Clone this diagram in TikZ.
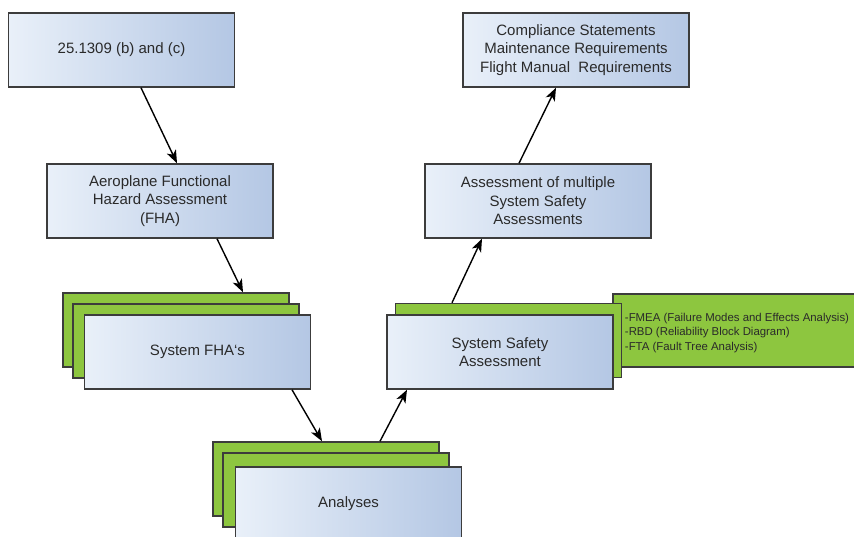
\documentclass[tikz,border=0pt]{standalone}
\usepackage{fontspec}
\setmainfont{Liberation Sans}
\usetikzlibrary{arrows.meta}
\definecolor{boxleft}{HTML}{E9F0F9}
\definecolor{boxright}{HTML}{B4C7E4}
\definecolor{leafgreen}{HTML}{8DC63F}
\definecolor{edgegray}{HTML}{3C3C3C}
\definecolor{textgray}{HTML}{2A2A2A}
\tikzset{
  bluebox/.style={draw=edgegray, line width=1.5pt, left color=boxleft, right color=boxright,
    minimum width=226pt, minimum height=74pt, inner sep=2pt, align=center,
    text=textgray, font=\fontsize{15}{18.5}\selectfont},
  greenbox/.style={draw=edgegray, line width=1.5pt, fill=leafgreen,
    minimum width=226pt, minimum height=74pt, inner sep=0pt},
  notebox/.style={draw=edgegray, line width=1.5pt, fill=leafgreen,
    minimum width=257pt, minimum height=73pt, inner sep=0pt},
  flow/.style={-{Stealth[length=13pt,width=10pt,inset=3.5pt]}, line width=1.4pt, black},
}
\begin{document}
\begin{tikzpicture}[x=1pt,y=-1pt]
\useasboundingbox (0,0) rectangle (854,537);
\clip (0,0) rectangle (854,537);

% top row
\node[bluebox] (rule) at (121.5,50) {25.1309 (b) and (c)};
\node[bluebox] (comp) at (576,50) {Compliance Statements\\Maintenance Requirements\\Flight Manual\ \ Requirements};

% second row
\node[bluebox] (fha) at (160,201) {Aeroplane Functional\\Hazard Assessment\\(FHA)};
\node[bluebox] (multi) at (538,201) {Assessment of multiple\\System Safety\\Assessments};

% stack of system FHAs
\node[greenbox] (sysA) at (176,330) {};
\node[greenbox] (sysB) at (186,341) {};
\node[bluebox] (sys) at (197.5,352) {System FHA`s};

% system safety assessment with its methods
\node[notebox] (methods) at (741.5,330.5) {};
\node[anchor=west, align=left, text=textgray, font=\fontsize{11.4}{14.5}\selectfont, inner sep=0pt]
  (methodtext) at ([xshift=12.5pt,yshift=-2.5pt]methods.west)
  {-FMEA (Failure Modes and Effects Analysis)\\-RBD (Reliability Block Diagram)\\-FTA (Fault Tree Analysis)};
\node[greenbox] (ssaback) at (508.5,340.5) {};
\node[bluebox] (ssa) at (500,352) {System Safety\\Assessment};

% stack of analyses
\node[greenbox] (anA) at (326,479) {};
\node[greenbox] (anB) at (336,490) {};
\node[bluebox] (an) at (348.5,504) {Analyses};

% flow connectors
\draw[flow] ([xshift=19.5pt]rule.south) -- ([xshift=17pt]fha.north);
\draw[flow] ([xshift=57pt]fha.south) -- ([xshift=67pt]sysA.north);
\draw[flow] ([xshift=94.5pt]sys.south) -- ([xshift=-4pt]anA.north);
\draw[flow] ([xshift=54pt]anA.north) -- ([xshift=-93pt]ssa.south);
\draw[flow] ([xshift=-56.5pt]ssaback.north) -- ([xshift=-56pt]multi.south);
\draw[flow] ([xshift=-19pt]multi.north) -- ([xshift=-20pt]comp.south);
\end{tikzpicture}
\end{document}
